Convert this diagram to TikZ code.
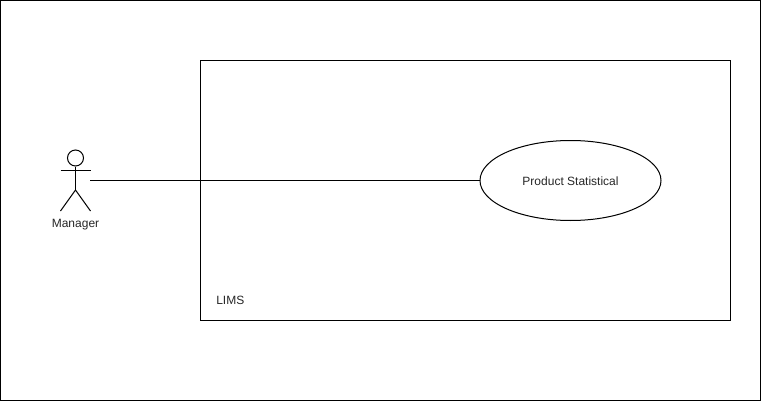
\documentclass[tikz,border=0pt]{standalone}
\usepackage{fontspec}
\setmainfont{Liberation Sans}
\usetikzlibrary{shapes.geometric, positioning}

\tikzset{
  umlline/.style={black, line width=0.75pt},
  usecase/.style={draw=black, line width=0.75pt, ellipse, inner sep=0pt, minimum width=135.75pt, minimum height=60pt},
  umllabel/.style={font=\fontsize{9}{11}\selectfont, text=black!85, inner sep=0pt},
}

\begin{document}
\begin{tikzpicture}[x=0.75pt, y=0.75pt]
  \useasboundingbox (0,0) rectangle (761,401);
  \draw[umlline] (0.5,0.5) rectangle (760.5,400.5);
  \draw[umlline] (200.5,80.5) rectangle (730.5,340.5);
  \node[umllabel, anchor=west] (lims) at (216,100.5) {LIMS};
  \node[usecase] (statistical) at (570.5,220.5) {};
  \node[umllabel] (statisticallabel) at (570.5,219.5) {Product Statistical};
  % actor
  \node[draw=black, line width=0.75pt, circle, inner sep=0pt, minimum size=12pt] (head) at (75.5,243) {};
  \coordinate (hip) at (75.5,211);
  \coordinate (hand) at (90,220.5);
  \draw[umlline] (head.south) -- (hip);
  \draw[umlline] (60.5,230.5) -- (90.5,230.5);
  \draw[umlline] (60.5,190) -- (hip) -- (90.5,190);
  \node[umllabel] (manager) at (75.5,176) {Manager};
  \draw[umlline] (hand) -- (statistical.west);
\end{tikzpicture}
\end{document}
